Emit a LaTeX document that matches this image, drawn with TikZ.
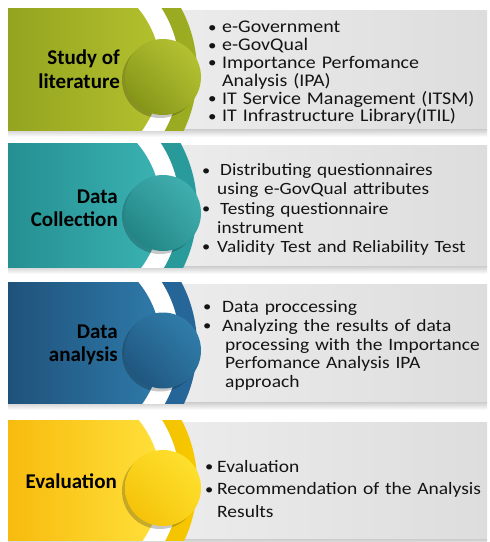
\documentclass[tikz,border=0pt]{standalone}
\usepackage{fontspec}
\setmainfont{Carlito}
\newfontfamily\bulletfont{Carlito}[FakeStretch=1.12]
\usetikzlibrary{calc,shadings}
\definecolor{boxl}{HTML}{F0F0F0}
\definecolor{boxm}{HTML}{FDFDFD}
\definecolor{boxr}{HTML}{DDDDDD}
\definecolor{gA}{HTML}{8A9B1B}\definecolor{gB}{HTML}{B3C12E}\definecolor{gR}{HTML}{9DAE22}\definecolor{gL}{HTML}{BAC835}\definecolor{gD}{HTML}{7A8A12}
\definecolor{tA}{HTML}{1E8587}\definecolor{tB}{HTML}{3BB2B3}\definecolor{tR}{HTML}{2A9C9D}\definecolor{tL}{HTML}{45B5B5}\definecolor{tD}{HTML}{1B7A7B}
\definecolor{bA}{HTML}{1A466C}\definecolor{bB}{HTML}{2F7AAA}\definecolor{bR}{HTML}{26679A}\definecolor{bL}{HTML}{3382B0}\definecolor{bD}{HTML}{1B4D75}
\definecolor{yA}{HTML}{F5B000}\definecolor{yB}{HTML}{FFE03A}\definecolor{yR}{HTML}{F8C800}\definecolor{yL}{HTML}{FFE433}\definecolor{yD}{HTML}{F3BC00}
\tikzset{
  titletext/.style={anchor=east, align=right, inner sep=0pt, text=black,
    font=\fontsize{21}{23.5}\selectfont\bfseries},
  bullettext/.style={anchor=west, inner sep=0pt, text=black!92, align=left, text width=285pt},
}
\newcommand\bl[1]{\makebox[#1][l]{\raisebox{0.5pt}{\scalebox{0.85}{•}}}}
\newcommand\tightlines{\lineskiplimit=-40pt\relax\lineskip=0pt\relax}
\newcommand\drawpanel[7]{%
  \pgfmathsetmacro\pT{#1}\pgfmathsetmacro\pB{#2}\pgfmathsetmacro\pM{(#1+#2)/2}%
  \shade[top color=black!20, bottom color=white] (8,\pB-1) rectangle (487,\pB+7);
  \shade[left color=boxl, middle color=boxm, right color=boxr] (90,\pT+2) rectangle (487,\pB-2);
  \begin{scope}
    \clip (8,\pT) rectangle (487,\pB);
    \shade[left color=#5!80!black, right color=#5] (61,\pM+3) circle[radius=136];
    \fill[white] (61,\pM+3) circle[radius=119];
    \shade[left color=#3, right color=#4] (61,\pM+3) circle[radius=100];
  \end{scope}
  \fill[black, opacity=.22] (160,\pM+11) circle[radius=38];
  \shade[upper right=#6, lower left=#7, upper left=#6!60!#7, lower right=#6!60!#7] (163,\pM+8) circle[radius=38];
}
\begin{document}
\begin{tikzpicture}[x=1pt,y=-1pt]
\useasboundingbox (0,0) rectangle (490,542);
\fill[white] (0,0) rectangle (490,542);
\drawpanel{8}{130}{gA}{gB}{gR}{gL}{gD}
\drawpanel{143}{267}{tA}{tB}{tR}{tL}{tD}
\drawpanel{282}{403}{bA}{bB}{bR}{bL}{bD}
\drawpanel{420}{540}{yA}{yB}{yR}{yL}{yD}

\node[titletext] (t1) at (120,69) {Study of\\literature};
\node[titletext] (t2) at (118,208.5) {Data\\Collection};
\node[titletext] (t3) at (118,345) {Data\\analysis};
\node[titletext] (t4) at (117,481) {Evaluation};

\node[bullettext, font=\bulletfont\fontsize{17.8}{17.8}\selectfont] (b1) at (208,73) {\tightlines
\bl{14pt}e-Government\\
\bl{14pt}e-GovQual\\
\bl{14pt}Importance Perfomance\\
\hspace*{14pt}Analysis (IPA)\\
\bl{14pt}IT Service Management (ITSM)\\
\bl{14pt}IT Infrastructure Library(ITIL)};

\node[bullettext, font=\bulletfont\fontsize{17.2}{19.2}\selectfont] (b2) at (202,209.5) {\tightlines
\bl{15pt}\hspace{3pt}Distributing questionnaires\\
\hspace*{15pt}using e-GovQual attributes\\
\bl{15pt}\hspace{3pt}Testing questionnaire\\
\hspace*{15pt}instrument\\
\bl{15pt}Validity Test and Reliability Test};

\node[bullettext, font=\bulletfont\fontsize{17.4}{18.8}\selectfont] (b3) at (203,345.5) {\tightlines
\bl{19pt}Data proccessing\\
\bl{19pt}Analyzing the results of data\\
\hspace*{22pt}processing with the Importance\\
\hspace*{22pt}Perfomance Analysis IPA\\
\hspace*{22pt}approach};

\node[bullettext, font=\bulletfont\fontsize{17.4}{22.5}\selectfont] (b4) at (205,489) {\tightlines
\bl{12pt}Evaluation\\
\bl{12pt}Recommendation of the Analysis\\
\hspace*{12pt}Results};
\end{tikzpicture}
\end{document}
